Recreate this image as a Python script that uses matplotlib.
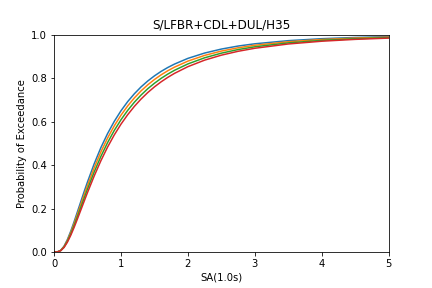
import numpy as np
import matplotlib
matplotlib.use("Agg")
import matplotlib.pyplot as plt

# ---------- DATA ----------
sa = [0.0, 0.05, 0.1, 0.15, 0.2, 0.25, 0.3, 0.35, 0.4, 0.45, 0.5, 0.6, 0.7,
      0.8, 0.9, 1.0, 1.1, 1.2, 1.3, 1.4, 1.5, 1.6, 1.7, 1.8, 2.0, 2.25, 2.5,
      2.75, 3.0, 3.5, 4.0, 4.5, 5.0]

curve_1 = [0.0, 0.0005, 0.0077, 0.0268, 0.0572, 0.0956, 0.139, 0.1851, 0.2315,
           0.2776, 0.322, 0.4055, 0.480, 0.5445, 0.6007, 0.6494, 0.6915, 0.7277,
           0.7593, 0.7864, 0.810, 0.8307, 0.8487, 0.8643, 0.8905, 0.915, 0.9333,
           0.9472, 0.9576, 0.972, 0.981, 0.9867, 0.9905]
curve_2 = [0.0, 0.0005, 0.0071, 0.0248, 0.0532, 0.0893, 0.1304, 0.1742, 0.2186,
           0.2629, 0.3059, 0.3870, 0.4601, 0.5240, 0.5801, 0.6291, 0.6716, 0.7085,
           0.7409, 0.7688, 0.7933, 0.8149, 0.8337, 0.8502, 0.8779, 0.9042, 0.9241,
           0.9392, 0.9508, 0.9670, 0.9772, 0.9838, 0.9883]
curve_3 = [0.0, 0.0004, 0.0065, 0.0228, 0.0491, 0.0828, 0.1215, 0.1629, 0.2053,
           0.2477, 0.2893, 0.3679, 0.4395, 0.5030, 0.5590, 0.6081, 0.6511, 0.6888,
           0.7218, 0.7508, 0.7761, 0.7986, 0.8183, 0.8357, 0.8650, 0.8932, 0.9145,
           0.9311, 0.9438, 0.9618, 0.9732, 0.9808, 0.9860]
curve_4 = [0.0, 0.0004, 0.0059, 0.0208, 0.0451, 0.0765, 0.1128, 0.152, 0.1924,
           0.233, 0.2731, 0.3494, 0.4196, 0.4825, 0.5384, 0.5878, 0.6312, 0.6696,
           0.7034, 0.7332, 0.7594, 0.7827, 0.8033, 0.8216, 0.8524, 0.8824, 0.9053,
           0.9231, 0.9370, 0.9567, 0.9694, 0.9779, 0.9837]

title = "S/LFBR+CDL+DUL/H35"
# ----------------------------------------------

fig, ax = plt.subplots(figsize=(6, 4), dpi=72)
fig.subplots_adjust(left=0.125, right=0.9, bottom=0.125, top=0.88)

for curve in (curve_1, curve_2, curve_3, curve_4):
    ax.plot(sa, curve, linewidth=1.5)

ax.set_xlim(0, 5)
ax.set_ylim(0, 1)
ax.set_xlabel("SA(1.0s)")
ax.set_ylabel("Probability of Exceedance")
ax.set_title(title)

fig.savefig("out.png", dpi=72)
